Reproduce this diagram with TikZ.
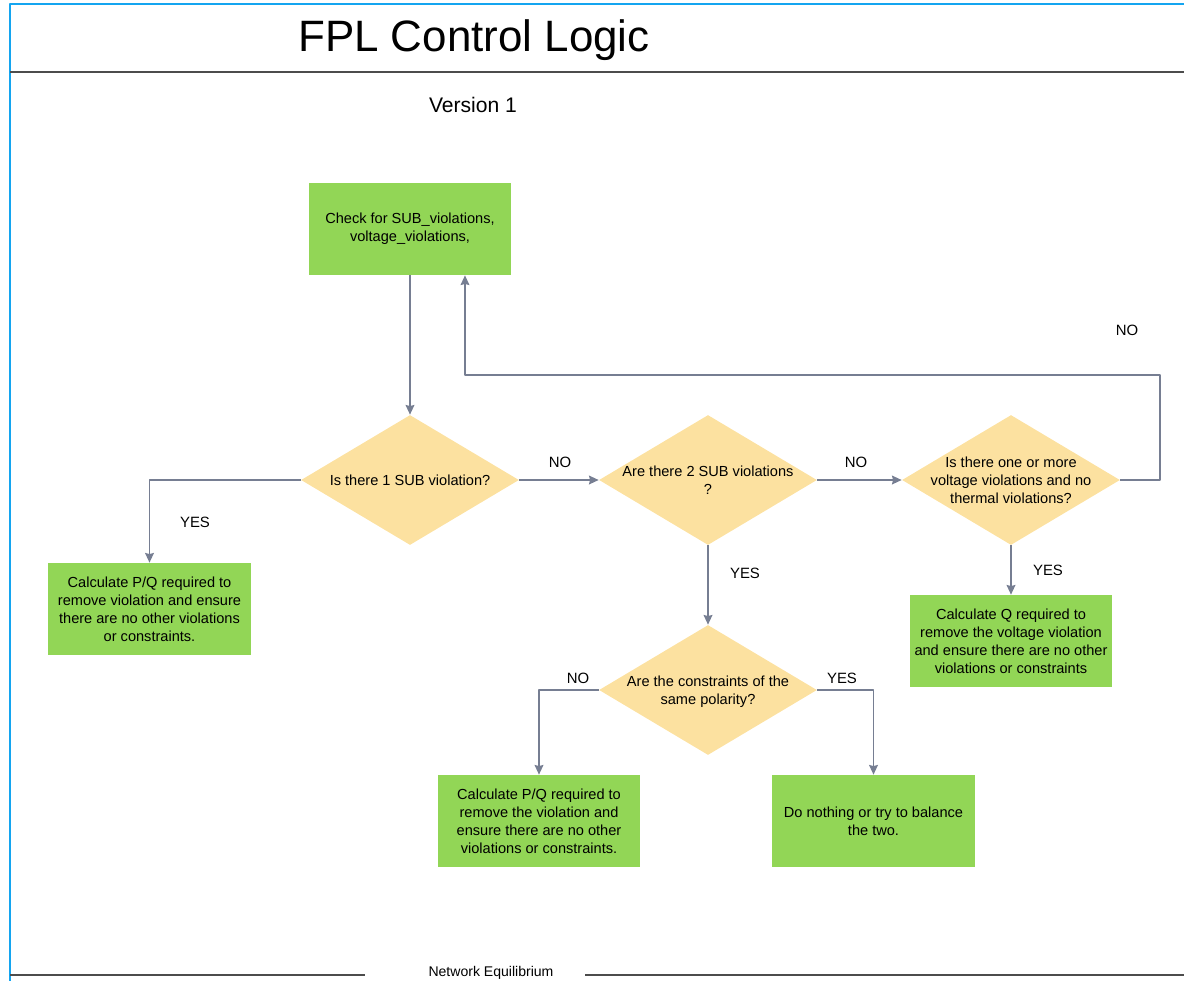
\documentclass[tikz,border=0pt]{standalone}
\usepackage{fontspec}
\setmainfont{Liberation Sans}
\usetikzlibrary{shapes.geometric,arrows.meta}
\definecolor{boxgreen}{RGB}{146,214,86}
\definecolor{askyellow}{RGB}{252,225,160}
\definecolor{linkgray}{RGB}{118,126,146}
\definecolor{frameblue}{RGB}{20,165,240}
\newcommand{\asktext}[1]{\smash{\makebox[0pt]{\raisebox{-3pt}{\begin{tabular}{@{}c@{}}#1\end{tabular}}}}}

\begin{document}
\begin{tikzpicture}[x=0.02cm,y=-0.02cm,>={Stealth[length=5.5pt,width=5pt,inset=0.6pt]},line join=round,
	font=\fontsize{8.3}{10.2}\selectfont,
	action/.style={fill=boxgreen,minimum width=4.06cm,minimum height=1.84cm,inner sep=0pt,align=center},
	ask/.style={diamond,fill=askyellow,minimum width=4.36cm,minimum height=2.6cm,inner sep=0pt},
	link/.style={->,draw=linkgray,line width=0.85pt},
	tag/.style={font=\fontsize{8.5}{10}\selectfont}]
	\useasboundingbox (0,0) rectangle (1184,981);
	% frame
	\draw[frameblue,line width=1.2pt] (10,981)--(10,4)--(1184,4);
	\draw[black!70,line width=1.1pt] (10,72)--(1184,72);
	\draw[black!70,line width=1.4pt] (10,975)--(365,975);
	\draw[black!70,line width=1.4pt] (585,975)--(1184,975);
	\node (title) at (474,40) {\fontsize{25}{30}\selectfont FPL Control Logic};
	\node (version) at (473,105) {\fontsize{12}{14}\selectfont Version 1};
	\node (footer) at (491,973) {\fontsize{8}{9}\selectfont Network Equilibrium};
	% boxes
	\node[action] (check) at (410,229) {Check for SUB\_violations,\\ voltage\_violations,};
	\node[ask] (one) at (410,480) {\asktext{Is there 1 SUB violation?}};
	\node[ask] (two) at (708,480) {\asktext{Are there 2 SUB violations\\ ?}};
	\node[ask] (volt) at (1011,480) {\asktext{Is there one or more\\ voltage violations and no\\ thermal violations?}};
	\node[ask] (pol) at (708,690) {\asktext{Are the constraints of the\\ same polarity?}};
	\node[action] (calcone) at (149.5,609) {Calculate P/Q required to\\ remove violation and ensure\\ there are no other violations\\ or constraints.};
	\node[action] (calcq) at (1011,641) {Calculate Q required to\\ remove the voltage violation\\ and ensure there are no other\\ violations or constraints};
	\node[action] (calctwo) at (539,821) {Calculate P/Q required to\\ remove the violation and\\ ensure there are no other\\ violations or constraints.};
	\node[action] (nothing) at (873.5,821) {Do nothing or try to balance\\ the two.};
	% links
	\coordinate (back) at (1160,375);
	\draw[link] (check)--(one);
	\draw[link] (one.west) -| (calcone.north);
	\draw[link] (one.east)--(two.west);
	\draw[link] (two.east)--(volt.west);
	\draw[link] (two.south)--(pol.north);
	\draw[link] (volt.south)--(calcq.north);
	\draw[link] (pol.west) -| (calctwo.north);
	\draw[link] (pol.east) -| (nothing.north);
	\draw[link] (volt.east) -| (back) -| ([xshift=1.1cm]check.south);
	% labels
	\node[tag] (yesone) at (195,522) {YES};
	\node[tag] (noone) at (560,462) {NO};
	\node[tag] (notwo) at (856,462) {NO};
	\node[tag] (noback) at (1127,330) {NO};
	\node[tag] (yestwo) at (745,573) {YES};
	\node[tag] (yesvolt) at (1048,570) {YES};
	\node[tag] (nopol) at (578,678) {NO};
	\node[tag] (yespol) at (842,678) {YES};
\end{tikzpicture}
\end{document}
